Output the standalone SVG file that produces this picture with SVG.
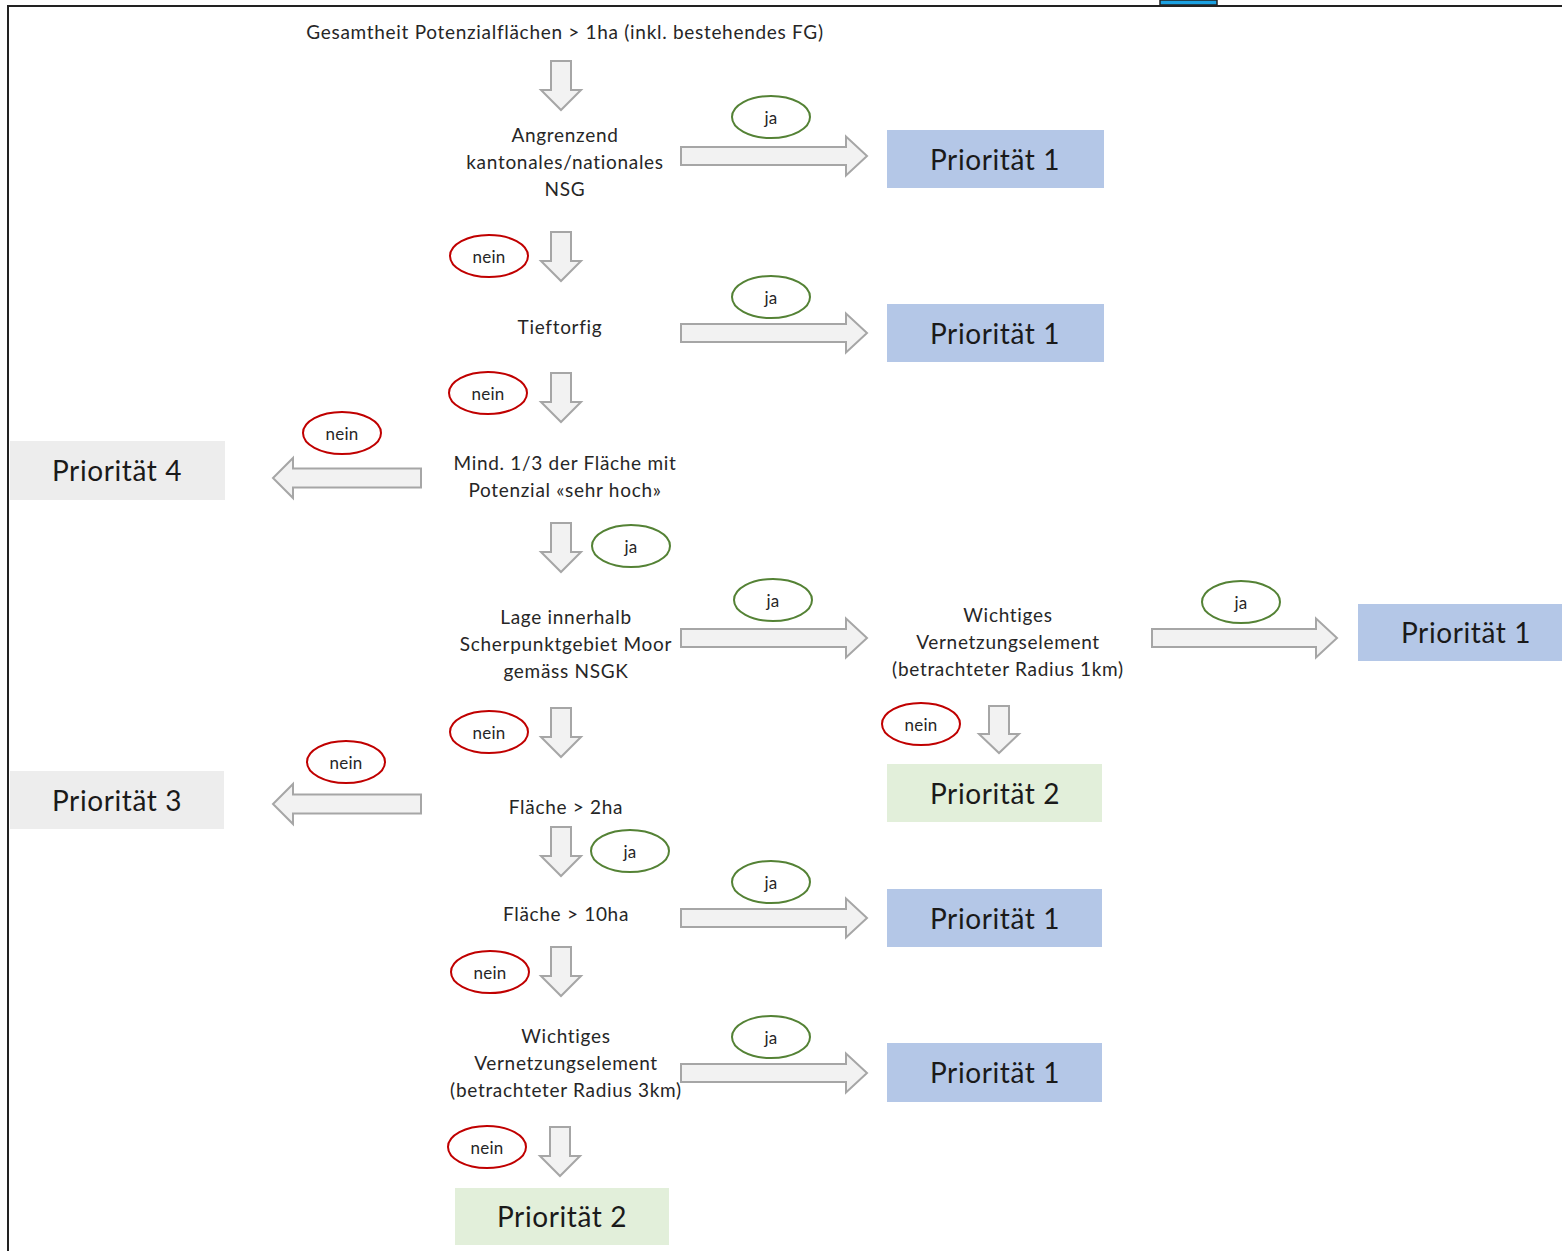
<svg xmlns="http://www.w3.org/2000/svg" width="1562" height="1251" viewBox="0 0 1562 1251">
<style>
  .t { font-family: Lato, "Liberation Sans", sans-serif; font-size: 19px; letter-spacing: 0.7px; fill: #262626; text-anchor: middle; dominant-baseline: central; }
  .p { font-family: Lato, "Liberation Sans", sans-serif; font-size: 28px; letter-spacing: 0.6px; fill: #1a1a1a; text-anchor: middle; dominant-baseline: central; }
  .l { font-family: Lato, "Liberation Sans", sans-serif; font-size: 17px; letter-spacing: 0.3px; fill: #262626; text-anchor: middle; dominant-baseline: central; }
  .arr { fill: #f2f2f2; stroke: #a6a6a6; stroke-width: 2; stroke-linejoin: miter; }
  .ja { fill: #ffffff; stroke: #548235; stroke-width: 2; }
  .nein { fill: #ffffff; stroke: #c00000; stroke-width: 2; }
  .p1 { fill: #b4c7e7; }
  .p2 { fill: #e2efda; }
  .p34 { fill: #ededed; }
</style>
<rect width="1562" height="1251" fill="#ffffff"/>
<g id="frame">
  <rect x="1160" y="0" width="57" height="5" fill="#1ba1e2" stroke="#222" stroke-width="1.5"/>
  <path d="M8,1251 V6 H1562" fill="none" stroke="#222" stroke-width="2"/>
</g>
<g id="connectors">
  <polygon class="arr" points="551,61 571,61 571,90 581,90 561,110 541,90 551,90"/>
  <polygon class="arr" points="551,232 571,232 571,261 581,261 561,281 541,261 551,261"/>
  <polygon class="arr" points="551,373 571,373 571,402 581,402 561,422 541,402 551,402"/>
  <polygon class="arr" points="551,523 571,523 571,552 581,552 561,572 541,552 551,552"/>
  <polygon class="arr" points="551,708 571,708 571,737 581,737 561,757 541,737 551,737"/>
  <polygon class="arr" points="989,706 1009,706 1009,734 1019,734 999,753 979,734 989,734"/>
  <polygon class="arr" points="551,827 571,827 571,856 581,856 561,876 541,856 551,856"/>
  <polygon class="arr" points="551,947 571,947 571,976 581,976 561,996 541,976 551,976"/>
  <polygon class="arr" points="550,1127 570,1127 570,1156 580,1156 560,1176 540,1156 550,1156"/>
  <polygon class="arr" points="681,147 846,147 846,136.5 867,156 846,175.5 846,165 681,165"/>
  <polygon class="arr" points="681,324 846,324 846,313.5 867,333 846,352.5 846,342 681,342"/>
  <polygon class="arr" points="681,629 846,629 846,618.5 867,638 846,657.5 846,647 681,647"/>
  <polygon class="arr" points="1152,629 1316,629 1316,618.5 1337,638 1316,657.5 1316,647 1152,647"/>
  <polygon class="arr" points="681,909 846,909 846,898.5 867,918 846,937.5 846,927 681,927"/>
  <polygon class="arr" points="681,1064 846,1064 846,1053.5 867,1073 846,1092.5 846,1082 681,1082"/>
  <polygon class="arr" points="421,468.5 293,468.5 293,458 273,478 293,498 293,487.5 421,487.5"/>
  <polygon class="arr" points="421,794.5 293,794.5 293,784 273,804 293,824 293,813.5 421,813.5"/>
</g>
<g id="labels">
  <g id="l1"><ellipse class="ja" cx="771" cy="117" rx="39" ry="21"/><text class="l" x="771" y="117">ja</text></g>
  <g id="l2"><ellipse class="nein" cx="489" cy="256" rx="39" ry="21"/><text class="l" x="489" y="256">nein</text></g>
  <g id="l3"><ellipse class="ja" cx="771" cy="297" rx="39" ry="21"/><text class="l" x="771" y="297">ja</text></g>
  <g id="l4"><ellipse class="nein" cx="488" cy="393" rx="39" ry="21"/><text class="l" x="488" y="393">nein</text></g>
  <g id="l5"><ellipse class="nein" cx="342" cy="433" rx="39" ry="21"/><text class="l" x="342" y="433">nein</text></g>
  <g id="l6"><ellipse class="ja" cx="631" cy="546" rx="39" ry="21"/><text class="l" x="631" y="546">ja</text></g>
  <g id="l7"><ellipse class="ja" cx="773" cy="600" rx="39" ry="21"/><text class="l" x="773" y="600">ja</text></g>
  <g id="l8"><ellipse class="ja" cx="1241" cy="602" rx="39" ry="21"/><text class="l" x="1241" y="602">ja</text></g>
  <g id="l9"><ellipse class="nein" cx="489" cy="732" rx="39" ry="21"/><text class="l" x="489" y="732">nein</text></g>
  <g id="l10"><ellipse class="nein" cx="921" cy="724" rx="39" ry="21"/><text class="l" x="921" y="724">nein</text></g>
  <g id="l11"><ellipse class="nein" cx="346" cy="762" rx="39" ry="21"/><text class="l" x="346" y="762">nein</text></g>
  <g id="l12"><ellipse class="ja" cx="630" cy="851" rx="39" ry="21"/><text class="l" x="630" y="851">ja</text></g>
  <g id="l13"><ellipse class="ja" cx="771" cy="882" rx="39" ry="21"/><text class="l" x="771" y="882">ja</text></g>
  <g id="l14"><ellipse class="nein" cx="490" cy="972" rx="39" ry="21"/><text class="l" x="490" y="972">nein</text></g>
  <g id="l15"><ellipse class="ja" cx="771" cy="1037" rx="39" ry="21"/><text class="l" x="771" y="1037">ja</text></g>
  <g id="l16"><ellipse class="nein" cx="487" cy="1147" rx="39" ry="21"/><text class="l" x="487" y="1147">nein</text></g>
</g>
<g id="n-start"><text class="t" x="565" y="31">Gesamtheit Potenzialflächen &gt; 1ha (inkl. bestehendes FG)</text></g>
<g id="n-nsg"><text class="t" x="565" y="134">Angrenzend</text><text class="t" x="565" y="161">kantonales/nationales</text><text class="t" x="565" y="188">NSG</text></g>
<g id="n-tief"><text class="t" x="560" y="326">Tieftorfig</text></g>
<g id="n-mind"><text class="t" x="565" y="462">Mind. 1/3 der Fläche mit</text><text class="t" x="565" y="489">Potenzial «sehr hoch»</text></g>
<g id="n-lage"><text class="t" x="566" y="616">Lage innerhalb</text><text class="t" x="566" y="643">Scherpunktgebiet Moor</text><text class="t" x="566" y="670">gemäss NSGK</text></g>
<g id="n-wicht1"><text class="t" x="1008" y="614">Wichtiges</text><text class="t" x="1008" y="641">Vernetzungselement</text><text class="t" x="1008" y="668">(betrachteter Radius 1km)</text></g>
<g id="n-f2"><text class="t" x="566" y="806">Fläche &gt; 2ha</text></g>
<g id="n-f10"><text class="t" x="566" y="913">Fläche &gt; 10ha</text></g>
<g id="n-wicht3"><text class="t" x="566" y="1035">Wichtiges</text><text class="t" x="566" y="1062">Vernetzungselement</text><text class="t" x="566" y="1089">(betrachteter Radius 3km)</text></g>
<g id="p1a"><rect class="p1" x="887" y="130" width="217" height="58"/><text class="p" x="995" y="159">Priorität 1</text></g>
<g id="p1b"><rect class="p1" x="887" y="304" width="217" height="58"/><text class="p" x="995" y="333">Priorität 1</text></g>
<g id="p4"><rect class="p34" x="10" y="441" width="215" height="59"/><text class="p" x="117" y="470">Priorität 4</text></g>
<g id="p1c"><rect class="p1" x="1358" y="604" width="204" height="57"/><text class="p" x="1466" y="632">Priorität 1</text></g>
<g id="p2a"><rect class="p2" x="887" y="764" width="215" height="58"/><text class="p" x="995" y="793">Priorität 2</text></g>
<g id="p3"><rect class="p34" x="10" y="771" width="214" height="58"/><text class="p" x="117" y="800">Priorität 3</text></g>
<g id="p1d"><rect class="p1" x="887" y="889" width="215" height="58"/><text class="p" x="995" y="918">Priorität 1</text></g>
<g id="p1e"><rect class="p1" x="887" y="1043" width="215" height="59"/><text class="p" x="995" y="1072">Priorität 1</text></g>
<g id="p2b"><rect class="p2" x="455" y="1188" width="214" height="57"/><text class="p" x="562" y="1216">Priorität 2</text></g>
</svg>
